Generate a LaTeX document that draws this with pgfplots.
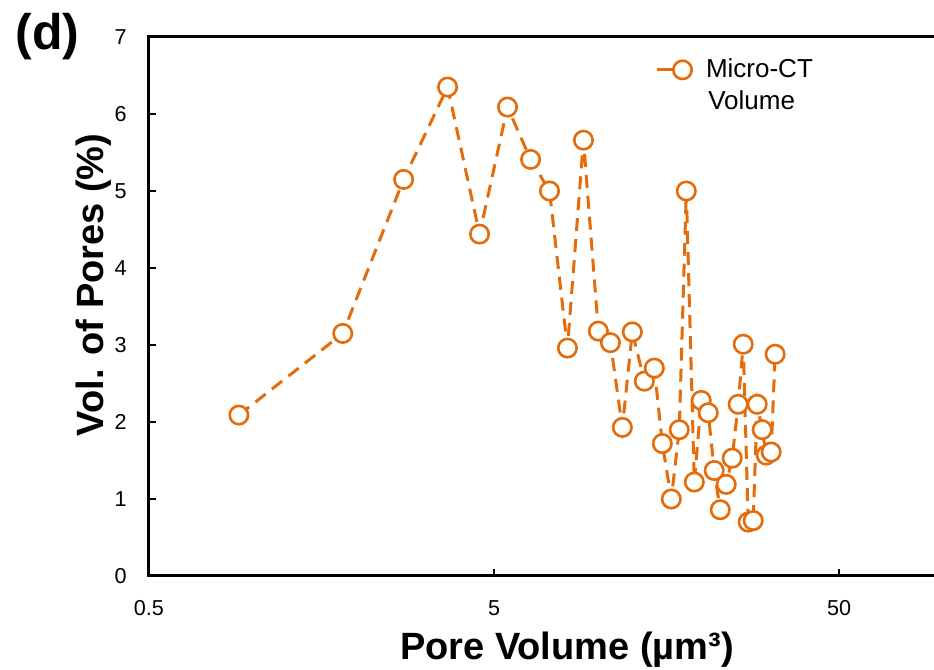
\documentclass[border=0pt]{standalone}
\usepackage{pgfplots}
\pgfplotsset{compat=1.18}
\usepackage{fontspec}
\setmainfont{Liberation Sans}
\definecolor{orng}{RGB}{228,108,10}
\begin{document}
\begin{tikzpicture}
\begin{axis}[
  scale only axis, width=392.5pt, height=269.5pt,
  xmode=log, xmin=0.5, xmax=94.2, ymin=0, ymax=7,
  axis x line*=bottom, axis y line*=left,
  axis line style={line width=1.5pt, black, line cap=rect},
  xtick={0.5,5,50}, xticklabels={0.5,5,50},
  ytick={0,1,2,3,4,5,6,7},
  xminorticks=false, yminorticks=false,
  tick align=inside, major tick length=3.5pt,
  tick style={line width=1.2pt, black},
  /pgf/number format/assume math mode=true,
  ticklabel style={font=\fontsize{10.8}{12}\selectfont},
  xticklabel style={inner sep=0pt, yshift=-12pt},
  yticklabel style={inner sep=0pt, xshift=-11pt},
  xlabel={Pore Volume (µm³)},
  ylabel={Vol. of Pores (\%)},
  label style={font=\bfseries\fontsize{19}{22}\selectfont},
  xlabel style={at={(axis description cs:0.5325,0)}, anchor=north, inner sep=0pt, yshift=-28pt},
  ylabel style={at={(axis description cs:-0.071,0.54)}, anchor=center, inner sep=0pt},
  legend style={draw=none, fill=none, at={(axis description cs:0.6446,0.939)}, anchor=west,
    inner sep=0pt, outer sep=0pt, column sep=6pt,
    nodes={inner sep=0pt, font=\fontsize{13}{15}\selectfont}},
  legend image code/.code={\draw[mark repeat=2, mark phase=2, #1, solid] plot coordinates {(0pt,0pt) (13pt,0pt) (18pt,0pt)};},
  clip=false,
]
\addplot[color=orng, line width=1.5pt, dash pattern=on 6.5pt off 4pt, mark=*, mark size=4.6pt,
  mark options={solid, fill=white, draw=orng, line width=1.3pt}] table {
x y
0.911 2.09
1.822 3.15
2.735 5.15
3.667 6.35
4.539 4.44
5.47 6.09
6.38 5.41
7.24 5.00
8.16 2.96
9.08 5.66
10.03 3.18
10.87 3.03
11.77 1.93
12.58 3.17
13.63 2.53
14.57 2.70
15.37 1.72
16.32 1.00
17.21 1.90
18.04 5.00
19.03 1.22
19.93 2.28
20.88 2.12
21.73 1.37
22.62 0.86
23.54 1.19
24.50 1.53
25.50 2.23
26.37 3.01
27.26 0.70
28.19 0.72
28.95 2.23
29.93 1.90
30.74 1.57
31.78 1.61
32.63 2.88
};
\addlegendentry{Micro-CT}
\draw[line width=1.5pt, line cap=rect, black] (rel axis cs:0,1) -- (rel axis cs:1,1);
\node[anchor=west, inner sep=0pt, font=\fontsize{13}{15}\selectfont] at (axis description cs:0.712,0.883) {Volume};
\node[anchor=west, inner sep=0pt, font=\bfseries\fontsize{25}{29}\selectfont] at (axis description cs:-0.1707,1) {(d)};
\end{axis}
\pgfresetboundingbox
\useasboundingbox ([xshift=-74.5pt,yshift=-47pt]current axis.south west) rectangle ([yshift=18.5pt]current axis.north east);
\end{tikzpicture}
\end{document}
